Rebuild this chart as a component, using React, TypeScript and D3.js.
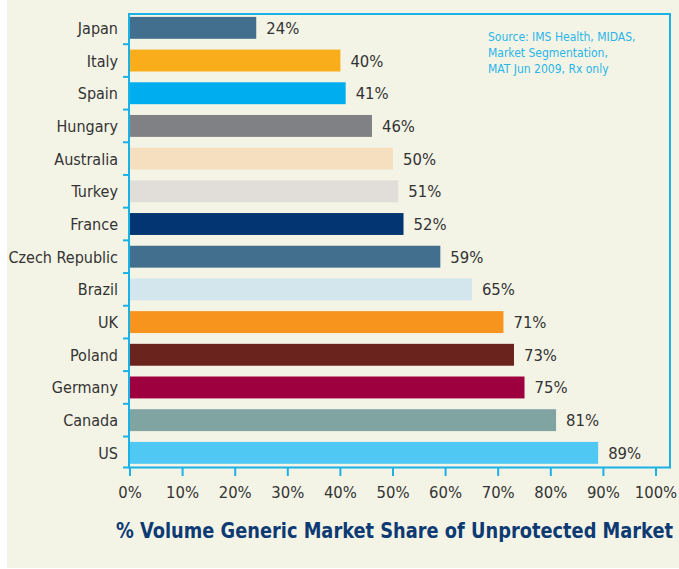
import React from "react";
import * as d3 from "d3";

const categories = ["Japan","Italy","Spain","Hungary","Australia","Turkey","France","Czech Republic","Brazil","UK","Poland","Germany","Canada","US"];
const values = [24,40,41,46,50,51,52,59,65,71,73,75,81,89];
const colors = ["#426f8e","#f9ad1b","#00aeef","#808184","#f5dfbf","#e1ded9","#033572","#426f8e","#d3e5ed","#f7941e","#6b241d","#9e003f","#80a4a2","#4fc9f3"];
const xTicks = [0,10,20,30,40,50,60,70,80,90,100];
const sourceLines = ["Source: IMS Health, MIDAS,","Market Segmentation,","MAT Jun 2009, Rx only"];
const title = "% Volume Generic Market Share of Unprotected Market";

const W = 679, H = 569;
const FONT = "'DejaVu Sans Condensed', 'Liberation Sans Narrow', sans-serif";

export default function App() {
  const x = d3.scaleLinear().domain([0, 100]).range([130, 656]);
  const y = d3.scaleBand().domain(categories).range([11.5, 469.2]).paddingInner(0.33).paddingOuter(0.165);
  const step = y.step();
  const boundaries = categories.map((c) => (y(c) as number) - (step - y.bandwidth()) / 2);
  const axisY = 467.5;
  const border = "#1ab2e6";
  return (
    <div style={{ position: "absolute", left: 0, top: 0 }}>
      <svg width={W} height={H} style={{ display: "block" }}>
        <rect x={0} y={0} width={W} height={H} fill="#ffffff" />
        <rect x={7} y={0} width={W - 7} height={568} fill="#f4f4e6" />
        <rect x={129} y={14} width={541} height={axisY - 14} fill="none" stroke={border} strokeWidth={2} />
        {boundaries.slice(1).map((b, i) => (
          <line key={i} x1={123} x2={129} y1={b} y2={b} stroke={border} strokeWidth={2} />
        ))}
        <line x1={123} x2={129} y1={axisY} y2={axisY} stroke={border} strokeWidth={2} />
        {xTicks.map((t) => (
          <line key={t} x1={x(t)} x2={x(t)} y1={axisY} y2={476} stroke={border} strokeWidth={2} />
        ))}
        {xTicks.map((t) => (
          <text key={t} x={x(t)} y={498} textAnchor="middle" fontFamily={FONT} fontSize={16.5} fill="#333333">{t}%</text>
        ))}
        {categories.map((c, i) => (
          <g key={c}>
            <rect x={x(0)} y={y(c)} width={x(values[i]) - x(0)} height={y.bandwidth()} fill={colors[i]} />
            <text x={118} y={(y(c) as number) + y.bandwidth() / 2 + 6} textAnchor="end" fontFamily={FONT} fontSize={16} fill="#333333">{c}</text>
            <text x={x(values[i]) + 10} y={(y(c) as number) + y.bandwidth() / 2 + 6} fontFamily={FONT} fontSize={16.5} fill="#333333">{values[i]}%</text>
          </g>
        ))}
        {sourceLines.map((s, i) => (
          <text key={i} x={488} y={40.5 + i * 16.3} fontFamily={FONT} fontSize={12} fill="#29b5e8">{s}</text>
        ))}
        <text transform="translate(116,538) scale(1,1.1)" x={0} y={0} fontFamily={FONT} fontSize={20} fontWeight="bold" fill="#0d3a73" textLength={557} lengthAdjust="spacingAndGlyphs">{title}</text>
      </svg>
    </div>
  );
}
